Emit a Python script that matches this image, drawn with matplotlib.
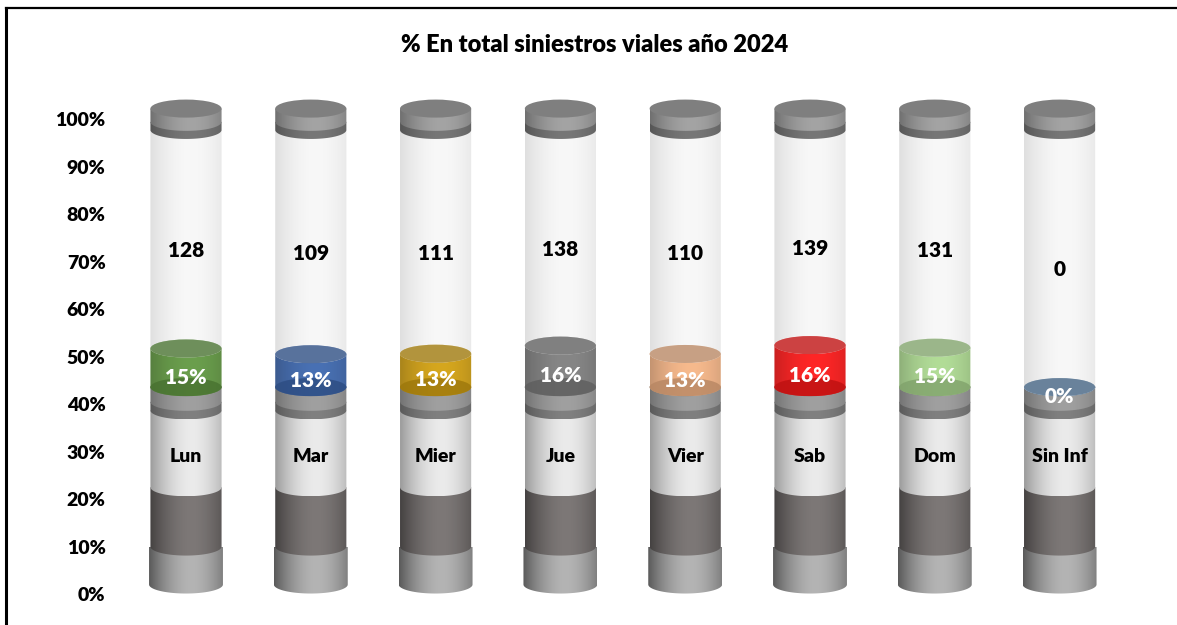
import numpy as np
import matplotlib
matplotlib.use("Agg")
import matplotlib.pyplot as plt
from matplotlib.path import Path
from matplotlib.patches import Ellipse, PathPatch
from matplotlib.lines import Line2D
from matplotlib.colors import to_rgb

# Data
days = ["Lun", "Mar", "Mier", "Jue", "Vier", "Sab", "Dom", "Sin Inf"]
counts = [128, 109, 111, 138, 110, 139, 131, 0]
percents = [15, 13, 13, 16, 13, 16, 15, 0]
exact_percents = [14.8, 12.6, 12.8, 15.9, 12.7, 16.1, 15.1, 0]
colors = ["#639a43", "#3f69b0", "#d4a212", "#808080", "#f7b687", "#ff1a1a", "#aedb92", "#5b84ad"]
y_ticks = [0, 10, 20, 30, 40, 50, 60, 70, 80, 90, 100]

# Stack levels of the tube, in axis percent
SEG_BOTTOM = 43.6
SEG_SCALE = 0.55
RX = 0.285
RY = 1.9
W, H = 1177, 625

plt.rcParams["font.family"] = ["Lato", "DejaVu Sans"]
plt.rcParams["font.weight"] = "heavy"

fig = plt.figure(figsize=(W / 100, H / 100), dpi=100, facecolor="white")
# 0% sits at pixel 594, 100% at pixel 119.5
ax = fig.add_axes([123.6 / W, (H - 594) / H, 998.4 / W, 474.5 / H])


def shade(color, edge=0.62, mid=1.0):
    # left-right cylinder shading
    t = np.linspace(-1, 1, 128)
    k = edge + (mid - edge) * (1 - (np.abs(t - 0.15) / 1.15) ** 1.8)
    c = np.array(to_rgb(color))
    return np.clip(k[None, :, None] * c[None, None, :], 0, 1)


def tube(i, y0, y1, color, z, rx=RX, alpha=1.0, edge=0.62):
    # side of a cylinder with a rounded bottom
    t = np.linspace(0, np.pi, 60)
    xs = np.r_[i - rx, i + rx * -np.cos(t), i + rx]
    ys = np.r_[y1, y0 - RY * np.sin(t), y1]
    clip = PathPatch(Path(np.c_[xs, ys]), transform=ax.transData, fc="none", ec="none")
    im = ax.imshow(shade(color, edge), extent=(i - rx, i + rx, y0 - RY, y1), aspect="auto",
                   zorder=z, alpha=alpha, interpolation="bilinear")
    im.set_clip_box(fig.bbox)
    im.set_clip_path(clip)


def disc(i, y, color, z, alpha=1.0):
    ax.add_patch(Ellipse((i, y), 2 * RX, 2 * RY, fc=color, ec="none", alpha=alpha, zorder=z, clip_on=False))


for i, day in enumerate(days):
    seg_top = SEG_BOTTOM + exact_percents[i] * SEG_SCALE

    # foot of the tube
    tube(i, 2.0, 10.0, "#b4b4b4", 2, rx=0.296, edge=0.5)
    tube(i, 10.0, 22.5, "#7d7877", 3, edge=0.55)
    tube(i, 22.5, 38.7, "#ebebeb", 4, edge=0.66)
    tube(i, 38.7, 40.5, "#808080", 5, edge=0.7)
    tube(i, 40.5, SEG_BOTTOM, "#a0a0a0", 6, edge=0.72)
    disc(i, SEG_BOTTOM, "#7f7f7f", 7)

    # coloured part
    tube(i, SEG_BOTTOM, seg_top, colors[i], 8, alpha=0.95, edge=0.78)
    disc(i, SEG_BOTTOM, colors[i], 9, alpha=0.75)
    disc(i, SEG_BOTTOM, "black", 9, alpha=0.2)

    # glass and cap
    tube(i, seg_top, 97.8, "#f8f8f8", 10, edge=0.9)
    disc(i, seg_top, colors[i], 11)
    disc(i, seg_top, "#808080", 11, alpha=0.4)
    tube(i, 97.8, 99.5, "#777777", 12, edge=0.72)
    tube(i, 99.5, 102.3, "#a4a4a4", 13, edge=0.68)
    disc(i, 102.3, "#7f7f7f", 14)

    ax.text(i, 28.9, day, ha="center", va="center", fontsize=14, zorder=20)
    ax.text(i, SEG_BOTTOM + exact_percents[i] * SEG_SCALE / 2 - 2.0, f"{percents[i]}%", ha="center",
            va="center", fontsize=15, color="white", zorder=20)
    ax.text(i, (seg_top + 94) / 2 - 0.5, str(counts[i]), ha="center", va="center", fontsize=15, zorder=20)

ax.set_xlim(-0.5, 7.5)
ax.set_ylim(0, 100)
ax.set_xticks([])
ax.set_yticks(y_ticks)
ax.set_yticklabels([f"{v}%" for v in y_ticks], fontsize=14)
ax.tick_params(axis="y", length=0, pad=13)
for s in ax.spines.values():
    s.set_visible(False)
ax.patch.set_alpha(0)

fig.text(595 / W, 1 - 45 / H, "% En total siniestros viales año 2024", ha="center", va="center", fontsize=17)

# chart frame: only the top and left edges are inside the crop
fig.add_artist(Line2D([5.5 / W, 5.5 / W], [0, 1 - 8 / H], color="black", lw=2.2, transform=fig.transFigure))
fig.add_artist(Line2D([5.5 / W, 1], [1 - 8 / H, 1 - 8 / H], color="black", lw=1.6, transform=fig.transFigure))

fig.savefig("out.png", dpi=100)
